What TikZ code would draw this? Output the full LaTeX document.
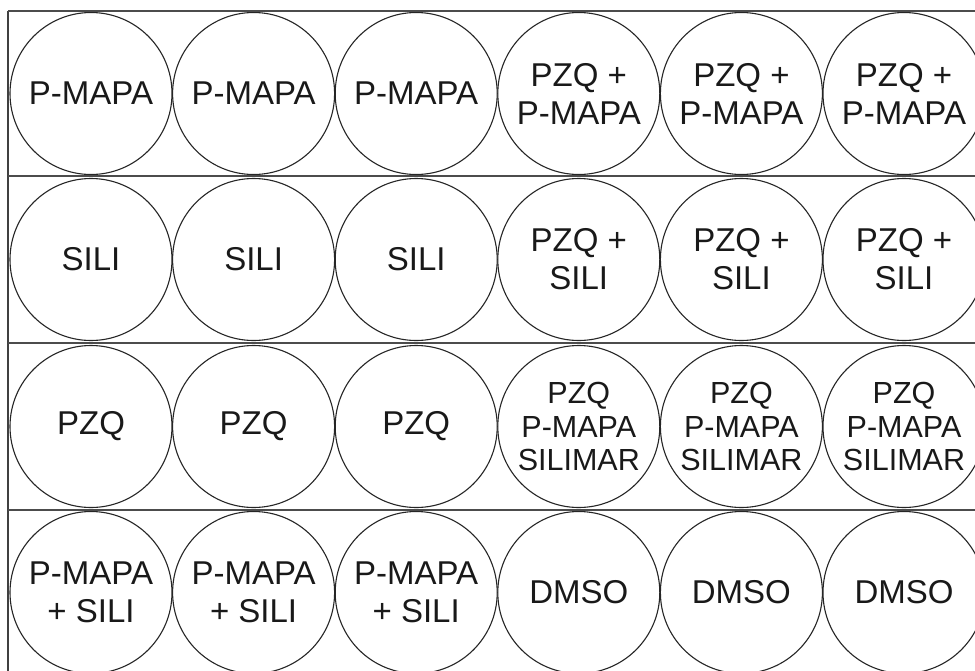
\documentclass[tikz,border=0pt]{standalone}
\usepackage{fontspec}
\setmainfont{Liberation Sans}
\begin{document}
\begin{tikzpicture}[x=1pt,y=-1pt,
  well/.style={circle,draw=black!85,line width=1.1pt,minimum size=162pt,inner sep=0pt,
    align=center,font=\fontsize{33}{38}\selectfont,text=black!90},
  well3/.style={well,font=\fontsize{30.5}{33.5}\selectfont},
  divider/.style={draw=black!70,line width=2.6pt},
  border/.style={draw=black!75,line width=1.4pt}]
\useasboundingbox (0,0) rectangle (975,670);
\clip (0,0) rectangle (975,670);
\fill[white] (0,0) rectangle (975,670);
% columns: 91, 253.6, 416.2, 578.8, 741.4, 904
% rows: 93.5, 259.5, 426.5, 592.5
\node[well] (a1) at (91,93.5) {P-MAPA};
\node[well] (a2) at (253.6,93.5) {P-MAPA};
\node[well] (a3) at (416.2,93.5) {P-MAPA};
\node[well] (a4) at (578.8,93.5) {PZQ +\\P-MAPA};
\node[well] (a5) at (741.4,93.5) {PZQ +\\P-MAPA};
\node[well] (a6) at (904,93.5) {PZQ +\\P-MAPA};
\node[well] (b1) at (91,259.5) {SILI};
\node[well] (b2) at (253.6,259.5) {SILI};
\node[well] (b3) at (416.2,259.5) {SILI};
\node[well] (b4) at (578.8,259.5) {PZQ +\\SILI};
\node[well] (b5) at (741.4,259.5) {PZQ +\\SILI};
\node[well] (b6) at (904,259.5) {PZQ +\\SILI};
\node[well] (c1) at (91,426.5) {PZQ};
\node[well] (c2) at (253.6,426.5) {PZQ};
\node[well] (c3) at (416.2,426.5) {PZQ};
\node[well3] (c4) at (578.8,426.5) {PZQ\\P-MAPA\\SILIMAR};
\node[well3] (c5) at (741.4,426.5) {PZQ\\P-MAPA\\SILIMAR};
\node[well3] (c6) at (904,426.5) {PZQ\\P-MAPA\\SILIMAR};
\node[well] (d1) at (91,592.5) {P-MAPA\\+ SILI};
\node[well] (d2) at (253.6,592.5) {P-MAPA\\+ SILI};
\node[well] (d3) at (416.2,592.5) {P-MAPA\\+ SILI};
\node[well] (d4) at (578.8,592.5) {DMSO};
\node[well] (d5) at (741.4,592.5) {DMSO};
\node[well] (d6) at (904,592.5) {DMSO};
% plate frame
\coordinate (tl) at (8,11);
\coordinate (tr) at (980,11);
\coordinate (bl) at (8,680);
\draw[border] (bl) -- (tl);
\draw[divider] (tl) -- (tr);
\foreach \y in {176,343,510}{
  \draw[divider] (8,\y) -- (980,\y);
}
\end{tikzpicture}
\end{document}
